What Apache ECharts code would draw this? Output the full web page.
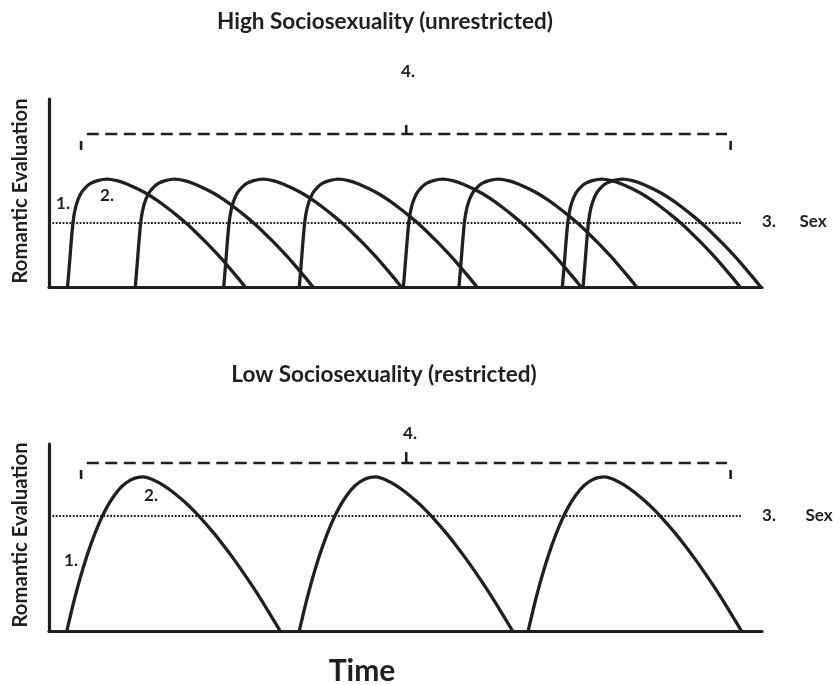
<!DOCTYPE html>
<html>
<head>
<meta charset="utf-8">
<script src="https://cdn.jsdelivr.net/npm/echarts@6/dist/echarts.min.js"></script>
<style>
  html, body { margin: 0; padding: 0; background: #fff; }
  #chart { width: 833px; height: 685px; }
</style>
</head>
<body>
<div id="chart"></div>
<script>
// ---- Data (time on x, romantic evaluation on y, both 0-100 arbitrary units) ----
// High sociosexuality: eight overlapping romantic evaluation curves (same height profile)
const highProfileY = [0, 8.0, 16.0, 22.9, 28.7, 33.5, 37.5, 41.0, 44.1, 47.1, 50.3, 52.9, 55.1, 56.6, 57.4, 56.6, 54.8, 52.4, 49.6, 46.2, 42.3, 38.1, 33.6, 28.6, 23.3, 17.7, 11.8, 5.5, 0];
const highCurve1X = [2.6, 2.78, 2.95, 3.09, 3.22, 3.34, 3.48, 3.65, 3.86, 4.14, 4.56, 5.12, 5.83, 6.81, 8.11, 9.51, 10.92, 12.32, 13.72, 15.12, 16.53, 17.93, 19.33, 20.73, 22.14, 23.54, 24.94, 26.34, 27.52];
const highCurve2X = [12.1, 12.28, 12.45, 12.59, 12.72, 12.84, 12.98, 13.15, 13.36, 13.64, 14.06, 14.62, 15.33, 16.31, 17.61, 19.01, 20.42, 21.82, 23.22, 24.62, 26.03, 27.43, 28.83, 30.23, 31.64, 33.04, 34.44, 35.84, 37.02];
const highCurve3X = [24.5, 24.68, 24.85, 24.99, 25.12, 25.24, 25.38, 25.55, 25.76, 26.04, 26.46, 27.02, 27.73, 28.71, 30.01, 31.41, 32.82, 34.22, 35.62, 37.02, 38.43, 39.83, 41.23, 42.63, 44.04, 45.44, 46.84, 48.24, 49.42];
const highCurve4X = [35.1, 35.28, 35.45, 35.59, 35.72, 35.84, 35.98, 36.15, 36.36, 36.64, 37.06, 37.62, 38.33, 39.31, 40.61, 42.01, 43.42, 44.82, 46.22, 47.62, 49.03, 50.43, 51.83, 53.23, 54.64, 56.04, 57.44, 58.84, 60.02];
const highCurve5X = [49.7, 49.88, 50.05, 50.19, 50.32, 50.44, 50.58, 50.75, 50.96, 51.24, 51.66, 52.22, 52.93, 53.91, 55.21, 56.61, 58.02, 59.42, 60.82, 62.22, 63.63, 65.03, 66.43, 67.83, 69.24, 70.64, 72.04, 73.44, 74.62];
const highCurve6X = [57.5, 57.68, 57.85, 57.99, 58.12, 58.24, 58.38, 58.55, 58.76, 59.04, 59.46, 60.02, 60.73, 61.71, 63.01, 64.41, 65.82, 67.22, 68.62, 70.02, 71.43, 72.83, 74.23, 75.63, 77.04, 78.44, 79.84, 81.24, 82.42];
const highCurve7X = [72.0, 72.18, 72.35, 72.49, 72.62, 72.74, 72.88, 73.05, 73.26, 73.54, 73.96, 74.52, 75.23, 76.21, 77.51, 78.91, 80.32, 81.72, 83.12, 84.52, 85.93, 87.33, 88.73, 90.13, 91.54, 92.94, 94.34, 95.74, 96.92];
const highCurve8X = [74.9, 75.08, 75.25, 75.39, 75.52, 75.64, 75.78, 75.95, 76.16, 76.44, 76.86, 77.42, 78.13, 79.11, 80.41, 81.81, 83.22, 84.62, 86.02, 87.42, 88.83, 90.23, 91.63, 93.03, 94.44, 95.84, 97.24, 98.64, 99.82];

// Low sociosexuality: three separate curves (same height profile)
const lowProfileY = [0, 17.8, 33.2, 46.3, 57.3, 66.1, 72.9, 77.8, 80.8, 82.0, 82.4, 80.8, 77.9, 74.1, 69.6, 64.5, 58.8, 52.6, 45.9, 38.7, 31.1, 23.2, 14.8, 6.0, 0];
const lowCurve1X = [2.5, 3.62, 4.74, 5.87, 6.99, 8.11, 9.23, 10.35, 11.48, 12.32, 13.24, 14.65, 16.05, 17.45, 18.85, 20.26, 21.66, 23.06, 24.46, 25.87, 27.27, 28.67, 30.07, 31.48, 32.42];
const lowCurve2X = [35.1, 36.22, 37.34, 38.47, 39.59, 40.71, 41.83, 42.95, 44.08, 44.92, 45.84, 47.25, 48.65, 50.05, 51.45, 52.86, 54.26, 55.66, 57.06, 58.47, 59.87, 61.27, 62.67, 64.08, 65.02];
const lowCurve3X = [67.2, 68.32, 69.44, 70.57, 71.69, 72.81, 73.93, 75.05, 76.18, 77.02, 77.94, 79.35, 80.75, 82.15, 83.55, 84.96, 86.36, 87.76, 89.16, 90.57, 91.97, 93.37, 94.77, 96.18, 97.12];

// Reference lines: [x, y] end points
const highSexLine = [[0, 34.0], [97.2, 34.0]];
const highBracket = [[5.3, 81.4], [95.1, 81.4]];
const highBracketLeft = [[4.5, 77.7], [4.5, 72.9]];
const highBracketRight = [[95.6, 77.7], [95.6, 72.9]];
const highBracketMid = [[50.1, 86.2], [50.1, 81.4]];

const lowSexLine = [[0, 61.5], [97.2, 61.5]];
const lowBracket = [[5.3, 89.8], [95.1, 89.8]];
const lowBracketLeft = [[4.5, 86.1], [4.5, 81.3]];
const lowBracketRight = [[95.6, 86.1], [95.6, 81.3]];
const lowBracketMid = [[50.1, 95.7], [50.1, 89.8]];

// Text labels
const panelTitles = ['High Sociosexuality (unrestricted)', 'Low Sociosexuality (restricted)'];
const yAxisTitle = 'Romantic Evaluation';
const xAxisTitle = 'Time';
const markerLabels = ['1.', '2.', '3.', '4.'];
const sexLabel = 'Sex';

// ---- Chart ----
const INK = '#231f20';
const FONT = 'Lato, "Open Sans", sans-serif';

function zip(xs, ys) { return xs.map((x, i) => [x, ys[i]]); }

function curve(xs, ys, idx) {
  return {
    type: 'line', xAxisIndex: idx, yAxisIndex: idx,
    data: zip(xs, ys), showSymbol: false, smooth: 0.3,
    lineStyle: { color: INK, width: 3.3, join: 'round' }, clip: false, silent: true, z: 3
  };
}
function ref(data, idx, type, width) {
  return {
    type: 'line', xAxisIndex: idx, yAxisIndex: idx, data: data, showSymbol: false,
    lineStyle: { color: INK, width: width, type: type, cap: 'butt' }, clip: false, silent: true, z: 2
  };
}

const axisBase = {
  min: 0, max: 100, type: 'value',
  axisLine: { show: true, onZero: false, lineStyle: { color: INK, width: 3.2 } },
  axisTick: { show: false }, axisLabel: { show: false }, splitLine: { show: false }
};

function txt(text, x, y, size, extra) {
  return Object.assign({
    type: 'text', x: x, y: y,
    style: { text: text, fill: INK, fontFamily: FONT, fontWeight: 'bold', fontSize: size, align: 'center', verticalAlign: 'middle' }
  }, extra || {});
}

const chart = echarts.init(document.getElementById('chart'), null, { renderer: 'canvas' });
chart.setOption({
  backgroundColor: '#ffffff',
  animation: false,
  grid: [
    { left: 49, top: 99, width: 713, height: 188 },
    { left: 49, top: 444, width: 713, height: 187 }
  ],
  xAxis: [Object.assign({ gridIndex: 0 }, axisBase), Object.assign({ gridIndex: 1 }, axisBase)],
  yAxis: [Object.assign({ gridIndex: 0 }, axisBase), Object.assign({ gridIndex: 1 }, axisBase)],
  series: [
    curve(highCurve1X, highProfileY, 0), curve(highCurve2X, highProfileY, 0),
    curve(highCurve3X, highProfileY, 0), curve(highCurve4X, highProfileY, 0),
    curve(highCurve5X, highProfileY, 0), curve(highCurve6X, highProfileY, 0),
    curve(highCurve7X, highProfileY, 0), curve(highCurve8X, highProfileY, 0),
    curve(lowCurve1X, lowProfileY, 1), curve(lowCurve2X, lowProfileY, 1), curve(lowCurve3X, lowProfileY, 1),
    ref(highSexLine, 0, [1.8, 1.6], 2),
    ref(highBracket, 0, [12, 6.5], 2.6),
    ref(highBracketLeft, 0, 'solid', 2.6), ref(highBracketRight, 0, 'solid', 2.6), ref(highBracketMid, 0, 'solid', 2.6),
    ref(lowSexLine, 1, [1.8, 1.6], 2),
    ref(lowBracket, 1, [12, 6.5], 2.6),
    ref(lowBracketLeft, 1, 'solid', 2.6), ref(lowBracketRight, 1, 'solid', 2.6), ref(lowBracketMid, 1, 'solid', 2.6)
  ],
  graphic: [
    txt(panelTitles[0], 385, 22, 22.5),
    txt(panelTitles[1], 384, 375, 22.5),
    txt(yAxisTitle, 20, 191, 20.3, { rotation: Math.PI / 2 }),
    txt(yAxisTitle, 20, 535, 20.3, { rotation: Math.PI / 2 }),
    txt(xAxisTitle, 362, 671, 30),
    txt(markerLabels[0], 63, 204, 17), txt(markerLabels[1], 107, 196, 17),
    txt(markerLabels[2], 769, 222, 17), txt(sexLabel, 813, 222, 17),
    txt(markerLabels[3], 408, 72, 17),
    txt(markerLabels[0], 71, 561, 17), txt(markerLabels[1], 151, 496, 17),
    txt(markerLabels[2], 769, 516, 17), txt(sexLabel, 819, 516, 17),
    txt(markerLabels[3], 410, 434, 17)
  ]
});
</script>
</body>
</html>
